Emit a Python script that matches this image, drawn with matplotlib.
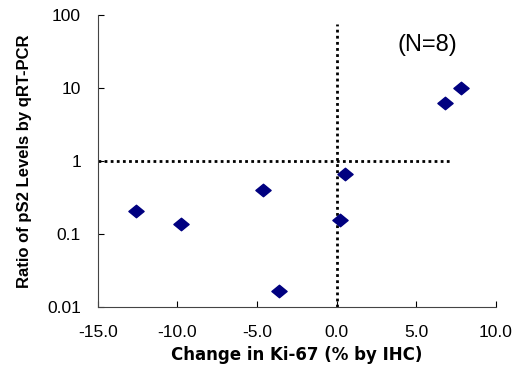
import matplotlib
matplotlib.use("Agg")
import matplotlib.pyplot as plt
from matplotlib.path import Path

plt.rcParams['font.family'] = ['Liberation Sans', 'DejaVu Sans']

# change in Ki-67 vs ratio of pS2 levels
ki67_change = [-12.6, -9.8, -4.6, -3.6, 0.2, 0.5, 6.8, 7.8]
ps2_ratio = [0.21, 0.136, 0.40, 0.0166, 0.155, 0.66, 6.3, 10.0]

x_ticks = [-15.0, -10.0, -5.0, 0.0, 5.0, 10.0]
y_ticks = [0.01, 0.1, 1, 10, 100]
y_labels = ['0.01', '0.1', '1', '10', '100']

fig = plt.figure(figsize=(5.17, 3.66), dpi=100)
ax = fig.add_axes([0.189, 0.161, 0.770, 0.798])

# reference lines
ax.plot([-15, 7.2], [1, 1], color='black', linestyle=(0, (1, 1.2)), linewidth=2)
ax.plot([0, 0], [0.01, 75], color='black', linestyle=(0, (1, 1.2)), linewidth=2)

# slightly flattened diamond
diamond = Path([(-1, 0), (0, 0.82), (1, 0), (0, -0.82), (-1, 0)],
               [Path.MOVETO, Path.LINETO, Path.LINETO, Path.LINETO, Path.CLOSEPOLY])
ax.scatter(ki67_change, ps2_ratio, marker=diamond, s=120, color='#000080', zorder=3)

ax.set_yscale('log')
ax.set_xlim(-15, 10)
ax.set_ylim(0.01, 100)
ax.set_xticks(x_ticks)
ax.set_xticklabels(['%.1f' % t for t in x_ticks])
ax.set_yticks(y_ticks)
ax.set_yticklabels(y_labels)
ax.minorticks_off()

ax.spines['top'].set_visible(False)
ax.spines['right'].set_visible(False)
ax.spines['left'].set_color('#444444')
ax.spines['bottom'].set_color('#444444')
ax.tick_params(direction='in', length=4, labelsize=12.5)
ax.tick_params(axis='x', pad=13)
ax.tick_params(axis='y', pad=12)

ax.set_xlabel('Change in Ki-67 (% by IHC)', fontsize=12, fontweight='bold',
              family='DejaVu Sans', labelpad=4)
ax.set_ylabel('Ratio of pS2 Levels by qRT-PCR', fontsize=12, fontweight='bold', labelpad=11)

ax.text(5.7, 39, '(N=8)', fontsize=17, ha='center', va='center')

fig.savefig('out.png', dpi=100)
